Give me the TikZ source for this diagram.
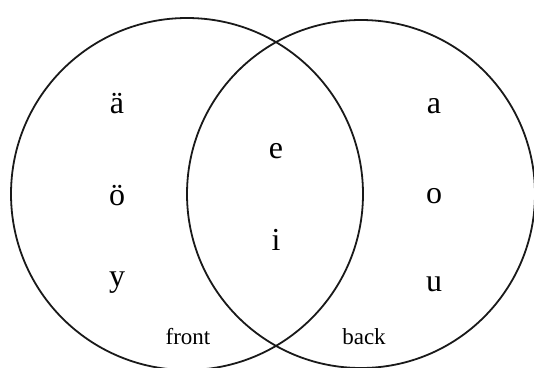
\documentclass[tikz,border=0pt]{standalone}
\usepackage{fontspec}
\setmainfont{Liberation Serif}
\begin{document}
\begin{tikzpicture}[x=1pt,y=-1pt,
  ring/.style={line width=1.8pt,draw=black!90},
  vowel/.style={anchor=base,inner sep=0pt,font=\fontsize{32}{32}\selectfont},
  lab/.style={anchor=base,inner sep=0pt,font=\fontsize{23}{23}\selectfont}]
\useasboundingbox (0,0) rectangle (534,367);
\clip (0,0) rectangle (534,367);
\coordinate (cf) at (187,194);
\coordinate (cb) at (361,194);
\draw[ring] (cf) circle[radius=176];
\draw[ring] (cb) circle[radius=174];
\node[vowel] (ae) at (117,113) {ä};
\node[vowel] (oe) at (117,205) {ö};
\node[vowel] (y) at (117,286) {y};
\node[vowel] (e) at (276,158) {e};
\node[vowel] (i) at (276,250) {i};
\node[vowel] (a) at (434,113) {a};
\node[vowel] (o) at (434,203) {o};
\node[vowel] (u) at (434,291) {u};
\node[lab] (front) at (188,344) {front};
\node[lab] (back) at (364,344) {back};
\end{tikzpicture}
\end{document}
